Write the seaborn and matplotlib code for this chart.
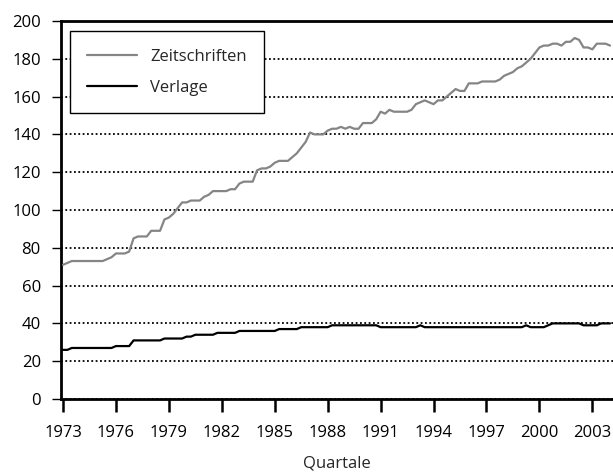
import numpy as np
import pandas as pd
import matplotlib
matplotlib.use("Agg")
import matplotlib.pyplot as plt
import seaborn as sns

# Quarterly values 1973Q1 .. 2004Q1
zeitschriften = [
    71, 72, 73, 73,      # 1973
    73, 73, 73, 73,      # 1974
    73, 73, 74, 75,      # 1975
    77, 77, 77, 78,      # 1976
    85, 86, 86, 86,      # 1977
    89, 89, 89, 95,      # 1978
    96, 98, 101, 104,    # 1979
    104, 105, 105, 105,  # 1980
    107, 108, 110, 110,  # 1981
    110, 110, 111, 111,  # 1982
    114, 115, 115, 115,  # 1983
    121, 122, 122, 123,  # 1984
    125, 126, 126, 126,  # 1985
    128, 130, 133, 136,  # 1986
    141, 140, 140, 140,  # 1987
    142, 143, 143, 144,  # 1988
    143, 144, 143, 143,  # 1989
    146, 146, 146, 148,  # 1990
    152, 151, 153, 152,  # 1991
    152, 152, 152, 153,  # 1992
    156, 157, 158, 157,  # 1993
    156, 158, 158, 160,  # 1994
    162, 164, 163, 163,  # 1995
    167, 167, 167, 168,  # 1996
    168, 168, 168, 169,  # 1997
    171, 172, 173, 175,  # 1998
    176, 178, 180, 183,  # 1999
    186, 187, 187, 188,  # 2000
    188, 187, 189, 189,  # 2001
    191, 190, 186, 186,  # 2002
    185, 188, 188, 188,  # 2003
    187,                 # 2004
]
verlage = [
    26, 26, 27, 27,
    27, 27, 27, 27,
    27, 27, 27, 27,
    28, 28, 28, 28,
    31, 31, 31, 31,
    31, 31, 31, 32,
    32, 32, 32, 32,
    33, 33, 34, 34,
    34, 34, 34, 35,
    35, 35, 35, 35,
    36, 36, 36, 36,
    36, 36, 36, 36,
    36, 37, 37, 37,
    37, 37, 38, 38,
    38, 38, 38, 38,
    38, 39, 39, 39,
    39, 39, 39, 39,
    39, 39, 39, 39,
    38, 38, 38, 38,
    38, 38, 38, 38,
    38, 39, 38, 38,
    38, 38, 38, 38,
    38, 38, 38, 38,
    38, 38, 38, 38,
    38, 38, 38, 38,
    38, 38, 38, 38,
    38, 39, 38, 38,
    38, 38, 39, 40,
    40, 40, 40, 40,
    40, 40, 39, 39,
    39, 39, 40, 40,
    40,
]
tick_years = [1973, 1976, 1979, 1982, 1985, 1988, 1991, 1994, 1997, 2000, 2003]
y_ticks = [0, 20, 40, 60, 80, 100, 120, 140, 160, 180, 200]

quarters = pd.period_range("1973Q1", periods=len(zeitschriften), freq="Q")
x_pos = quarters.year + (quarters.quarter - 1) / 4.0

df = pd.DataFrame({
    "Quartal": np.concatenate([x_pos, x_pos]),
    "Wert": zeitschriften + verlage,
    "Reihe": ["Zeitschriften"] * len(zeitschriften) + ["Verlage"] * len(verlage),
})

sns.set_style("white")
plt.rcParams["font.family"] = ["Open Sans", "DejaVu Sans"]

fig = plt.figure(figsize=(6.13, 4.73), dpi=100)
ax = fig.add_axes([61 / 613, 74 / 473, 552 / 613, 378 / 473])

sns.lineplot(data=df, x="Quartal", y="Wert", hue="Reihe",
             palette={"Zeitschriften": "#858585", "Verlage": "black"},
             linewidth=1.6, ax=ax, zorder=3)

ax.set_xlim(1972.887, 2004.17)
ax.set_ylim(0, 200)
ax.set_xticks(tick_years)
ax.set_xticklabels([str(y) for y in tick_years])
ax.set_yticks(y_ticks)
ax.yaxis.grid(True, color="black", linestyle=(0, (1, 1.4)), linewidth=1.3)
ax.xaxis.grid(False)

for side in ["left", "top", "bottom"]:
    ax.spines[side].set_visible(True)
    ax.spines[side].set_color("black")
    ax.spines[side].set_linewidth(2)
ax.spines["right"].set_visible(False)

ax.tick_params(axis="x", direction="out", length=9, width=1.8, pad=10,
               labelsize=12, colors="black", bottom=True)
ax.tick_params(axis="y", direction="out", length=6.5, width=1, pad=8,
               labelsize=12, colors="black", left=True)

ax.set_xlabel("Quartale", fontsize=12, labelpad=10)
ax.set_ylabel("")

leg = ax.legend(loc="upper left", bbox_to_anchor=(0.0163, 0.9735),
                borderaxespad=0, fontsize=12, frameon=True, fancybox=False,
                handlelength=3.0, handletextpad=0.75, borderpad=1.05,
                labelspacing=0.9)
leg.get_frame().set_edgecolor("black")
leg.get_frame().set_linewidth(1)
leg.get_frame().set_alpha(1)
leg.set_zorder(5)

fig.savefig("out.png", dpi=100)
